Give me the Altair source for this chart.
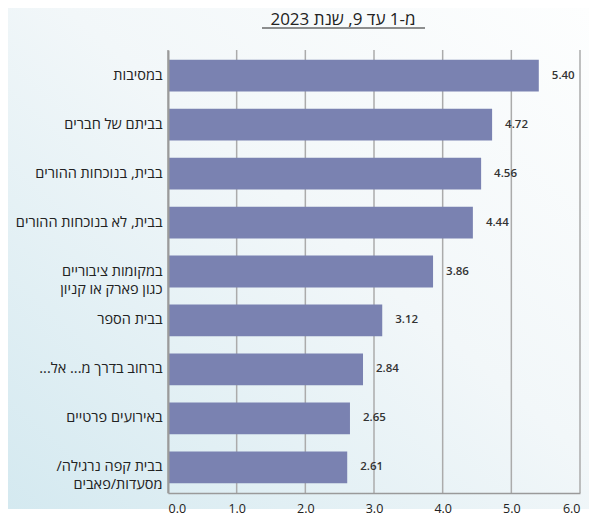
import altair as alt
import pandas as pd

title_text = "מ-1 עד 9, שנת 2023"
categories = [
    "במסיבות",
    "בביתם של חברים",
    "בבית, בנוכחות ההורים",
    "בבית, לא בנוכחות ההורים",
    "במקומות ציבוריים|כגון פארק או קניון",
    "בבית הספר",
    "ברחוב בדרך מ... אל...\u200f",
    "באירועים פרטיים",
    "בבית קפה נרגילה/\u200f|מסעדות/פאבים",
]
values = [5.40, 4.72, 4.56, 4.44, 3.86, 3.12, 2.84, 2.65, 2.61]
x_ticks = [0, 1, 2, 3, 4, 5, 6]

FONT = "Open Sans"
W, H = 412, 443

df = pd.DataFrame({"cat": categories, "val": values,
                   "lab": [f"{v:.2f}" for v in values]})
ticks_df = pd.DataFrame({"t": x_ticks})

xscale = alt.Scale(domain=[0, 6], nice=False, zero=True)
xaxis = alt.Axis(title=None, values=x_ticks, format=".1f", grid=False,
                 ticks=False, labelPadding=9, labelFont=FONT,
                 labelFontSize=12.5, labelColor="#222222",
                 domainColor="#9a9a9a", domainWidth=1.5, zindex=1)
yaxis = alt.Axis(title=None, labelExpr="split(datum.value, '|')",
                 labelFont=FONT, labelFontSize=14.5, labelColor="#222222",
                 labelLineHeight=18, labelPadding=6, ticks=False,
                 domainColor="#9a9a9a", domainWidth=2, labelLimit=200, zindex=1)

bg = alt.Chart(pd.DataFrame({"a": [0]})).mark_rect(
    color=alt.Gradient(
        gradient="linear",
        stops=[alt.GradientStop(color="#fdfefe", offset=0),
               alt.GradientStop(color="#f2f7f9", offset=0.45),
               alt.GradientStop(color="#d4e9f0", offset=1)],
        x1=1, y1=0, x2=0, y2=1),
).encode(x=alt.value(-160), x2=alt.value(421), y=alt.value(-42), y2=alt.value(459))

grid = alt.Chart(ticks_df).mark_rule(color="#ababab", strokeWidth=1.5).encode(
    x=alt.X("t:Q", scale=xscale, axis=xaxis)
)

base = alt.Chart(df)
bars = base.mark_bar(color="#7a82b1").encode(
    y=alt.Y("cat:N", sort=None,
            scale=alt.Scale(paddingInner=0.35, paddingOuter=0.2),
            axis=yaxis),
    x=alt.X("val:Q", scale=xscale, axis=xaxis),
)
labels = base.mark_text(align="left", baseline="middle", dx=13, font=FONT,
                        fontSize=11.5, fontWeight=600, color="#333333").encode(
    y=alt.Y("cat:N", sort=None, axis=yaxis), x=alt.X("val:Q", scale=xscale, axis=xaxis),
    text="lab:N")

title = alt.Chart(pd.DataFrame({"t": [title_text]})).mark_text(
    font=FONT, fontSize=17, color="#222222", align="center", baseline="alphabetic"
).encode(x=alt.value(175), y=alt.value(-25), text="t:N")
underline = alt.Chart(pd.DataFrame({"a": [0]})).mark_rule(
    color="#222222", strokeWidth=1.2
).encode(x=alt.value(94), x2=alt.value(257), y=alt.value(-22))

chart = alt.layer(bg, grid, bars, labels, title, underline).properties(
    width=W, height=H, padding=0
).configure_view(stroke=None).configure(background="#ffffff")

chart.save("out.html", embed_options={"renderer": "svg", "actions": False})
